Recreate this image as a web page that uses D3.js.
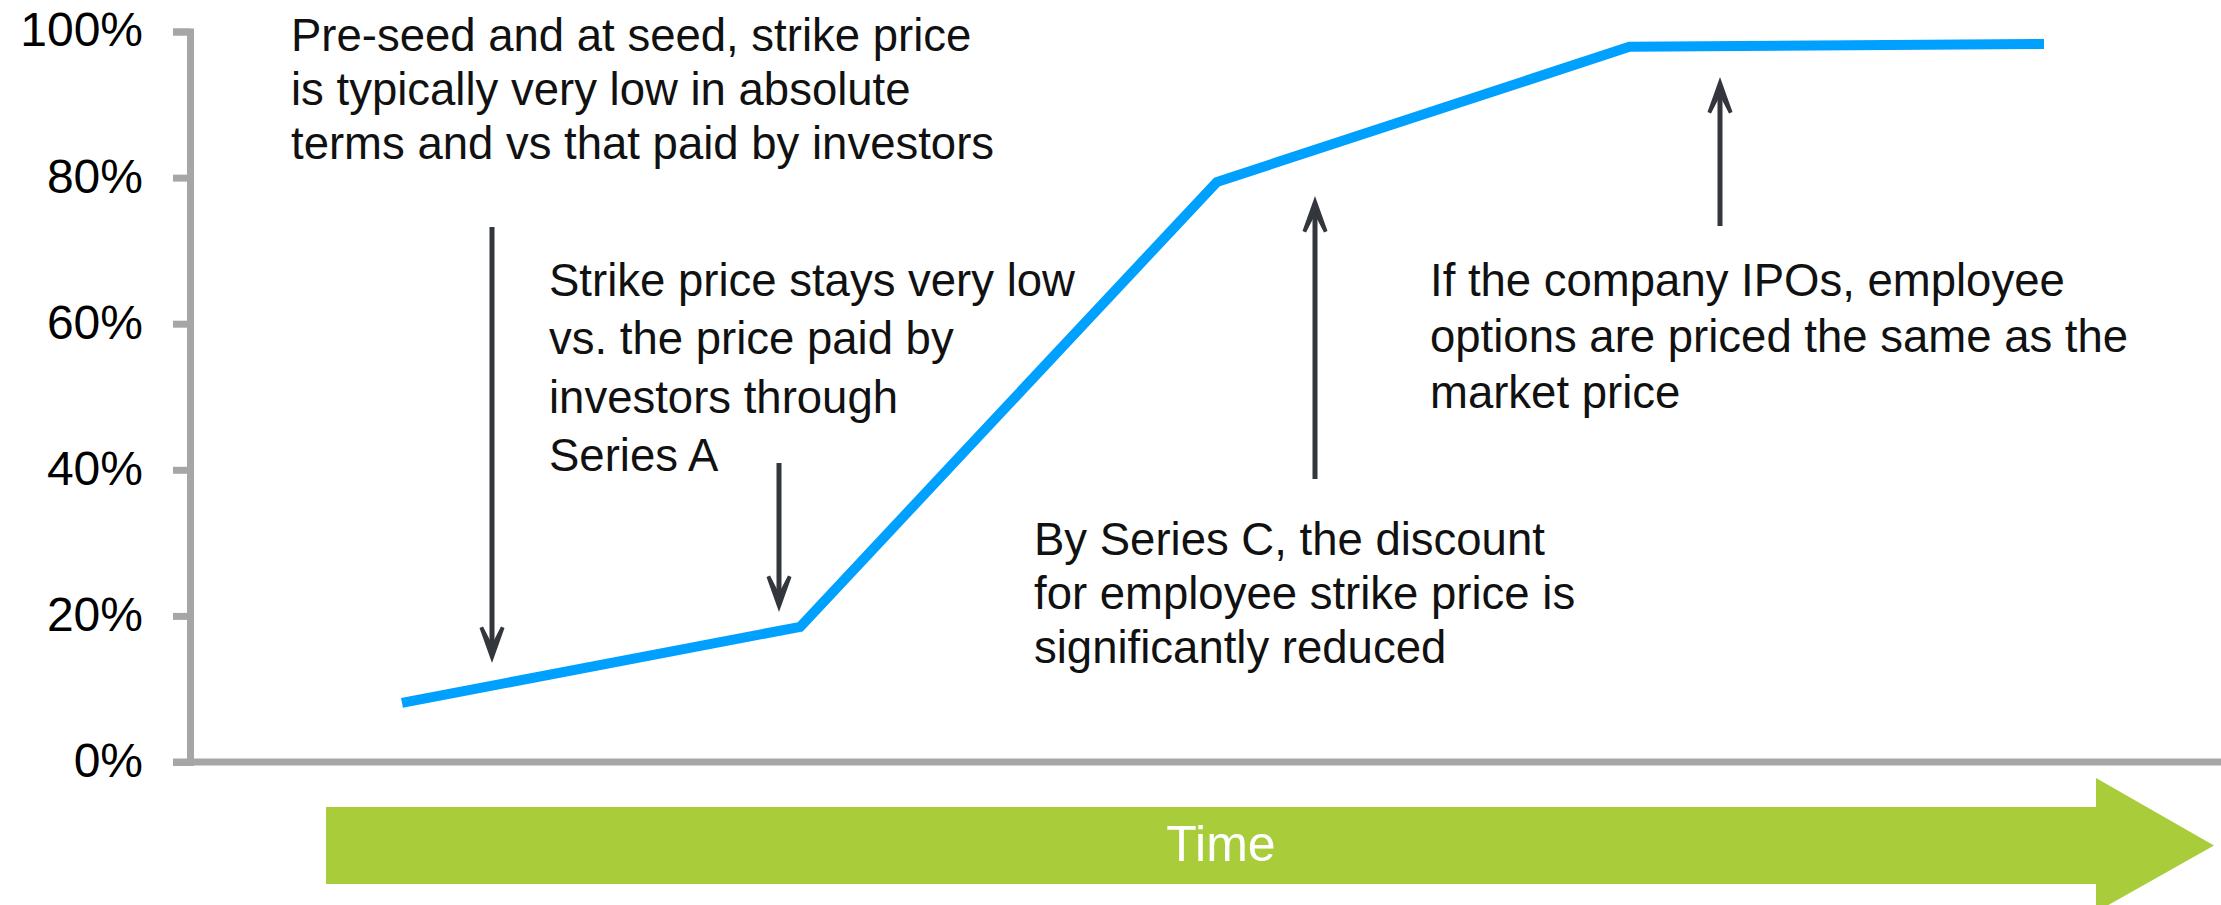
<!DOCTYPE html>
<html>
<head>
<meta charset="utf-8">
<script src="https://cdn.jsdelivr.net/npm/d3@7"></script>
<style>
  body { margin: 0; background: #fff; }
  svg { display: block; }
  text { font-family: "Liberation Sans", Arial, Helvetica, sans-serif; }
</style>
</head>
<body>
<div id="chart"></div>
<script>
// chart values
var stagePos = [0, 0.97, 1.985, 2.99, 4];          // position along the time arrow
var strikePct = [8.1, 18.5, 79.4, 97.9, 98.3];      // strike price as % of market price
var yTicks = [0, 20, 40, 60, 80, 100];

// annotation text
var noteSeed = ["Pre-seed and at seed, strike price", "is typically very low in absolute", "terms and vs that paid by investors"];
var noteSeriesA = ["Strike price stays very low", "vs. the price paid by", "investors through", "Series A"];
var noteSeriesC = ["By Series C, the discount", "for employee strike price is", "significantly reduced"];
var noteIpo = ["If the company IPOs, employee", "options are priced the same as the", "market price"];
var timeLabel = "Time";

// set the dimensions
var W = 2221, H = 905;
var axisX = 190, yTop = 31.5, yBottom = 762;

var svg = d3.select("#chart")
  .append("svg")
    .attr("width", W)
    .attr("height", H);

// scales
var x = d3.scaleLinear()
  .domain([0, 4])
  .range([402, 2044]);

var y = d3.scaleLinear()
  .domain([0, 100])
  .range([yBottom, yTop]);

// green time arrow under the chart
var arr = {x0: 326, x1: 2096, tip: 2214, top: 807, bottom: 884, headTop: 778, headBottom: 912};
var cy = (arr.top + arr.bottom) / 2;
svg.append("path")
  .attr("fill", "#a9cd3a")
  .attr("d", "M" + arr.x0 + "," + arr.top +
    "H" + arr.x1 + "V" + arr.headTop +
    "L" + arr.tip + "," + cy +
    "L" + arr.x1 + "," + arr.headBottom +
    "V" + arr.bottom + "H" + arr.x0 + "Z");

svg.append("text")
  .attr("x", 1221)
  .attr("y", 861)
  .attr("text-anchor", "middle")
  .attr("fill", "#fff")
  .style("font-size", "50px")
  .text(timeLabel);

// Y axis
var yAxis = svg.append("g")
  .attr("transform", "translate(" + axisX + ",0)")
  .call(d3.axisLeft(y)
    .tickValues(yTicks)
    .tickSize(17)
    .tickPadding(30)
    .tickFormat(function(d) { return d + "%"; }));

yAxis.select(".domain")
  .attr("stroke", "#a6a6a6")
  .attr("stroke-width", 7);
yAxis.selectAll(".tick line")
  .attr("stroke", "#a6a6a6")
  .attr("stroke-width", 7);
yAxis.selectAll(".tick text")
  .attr("fill", "#000")
  .attr("dy", "0.3em")
  .style("font-size", "48px")
  .style("font-family", "'Liberation Sans', Arial, sans-serif");

// X axis line (no ticks)
svg.append("line")
  .attr("x1", axisX - 17)
  .attr("x2", W)
  .attr("y1", y(0))
  .attr("y2", y(0))
  .attr("stroke", "#a6a6a6")
  .attr("stroke-width", 7);

// the strike price line
var points = stagePos.map(function(d, i) { return [d, strikePct[i]]; });
svg.append("path")
  .datum(points)
  .attr("fill", "none")
  .attr("stroke", "#00a0ff")
  .attr("stroke-width", 10)
  .attr("stroke-linejoin", "miter")
  .attr("d", d3.line()
    .x(function(d) { return x(d[0]); })
    .y(function(d) { return y(d[1]); })
  );

// annotation arrows: x, tail y, tip y
var arrows = [
  {x: 492, from: 227, to: 663},
  {x: 779, from: 463, to: 612},
  {x: 1315, from: 479, to: 196},
  {x: 1720, from: 226, to: 77}
];

arrows.forEach(function(a) {
  var dir = a.to > a.from ? 1 : -1;   // 1 = pointing down
  svg.append("line")
    .attr("x1", a.x).attr("x2", a.x)
    .attr("y1", a.from).attr("y2", a.to - dir * 14)
    .attr("stroke", "#33363d")
    .attr("stroke-width", 5);
  var t = a.to;
  svg.append("path")
    .attr("fill", "#33363d")
    .attr("d", "M" + a.x + "," + t +
      "L" + (a.x - 12.5) + "," + (t - dir * 35) +
      "L" + (a.x - 9) + "," + (t - dir * 36.5) +
      "L" + a.x + "," + (t - dir * 19) +
      "L" + (a.x + 9) + "," + (t - dir * 36.5) +
      "L" + (a.x + 12.5) + "," + (t - dir * 35) + "Z");
});

// annotation text blocks
var notes = [
  {lines: noteSeed, x: 291, y: 51, lh: 54},
  {lines: noteSeriesA, x: 549, y: 296, lh: 58.3},
  {lines: noteSeriesC, x: 1034, y: 555, lh: 54},
  {lines: noteIpo, x: 1430, y: 296, lh: 56}
];

notes.forEach(function(n) {
  var t = svg.append("text")
    .attr("x", n.x)
    .attr("y", n.y)
    .attr("fill", "#111")
    .style("font-size", "45.5px");
  t.selectAll("tspan")
    .data(n.lines)
    .enter()
    .append("tspan")
    .attr("x", n.x)
    .attr("y", function(d, i) { return n.y + i * n.lh; })
    .text(function(d) { return d; });
});
</script>
</body>
</html>
